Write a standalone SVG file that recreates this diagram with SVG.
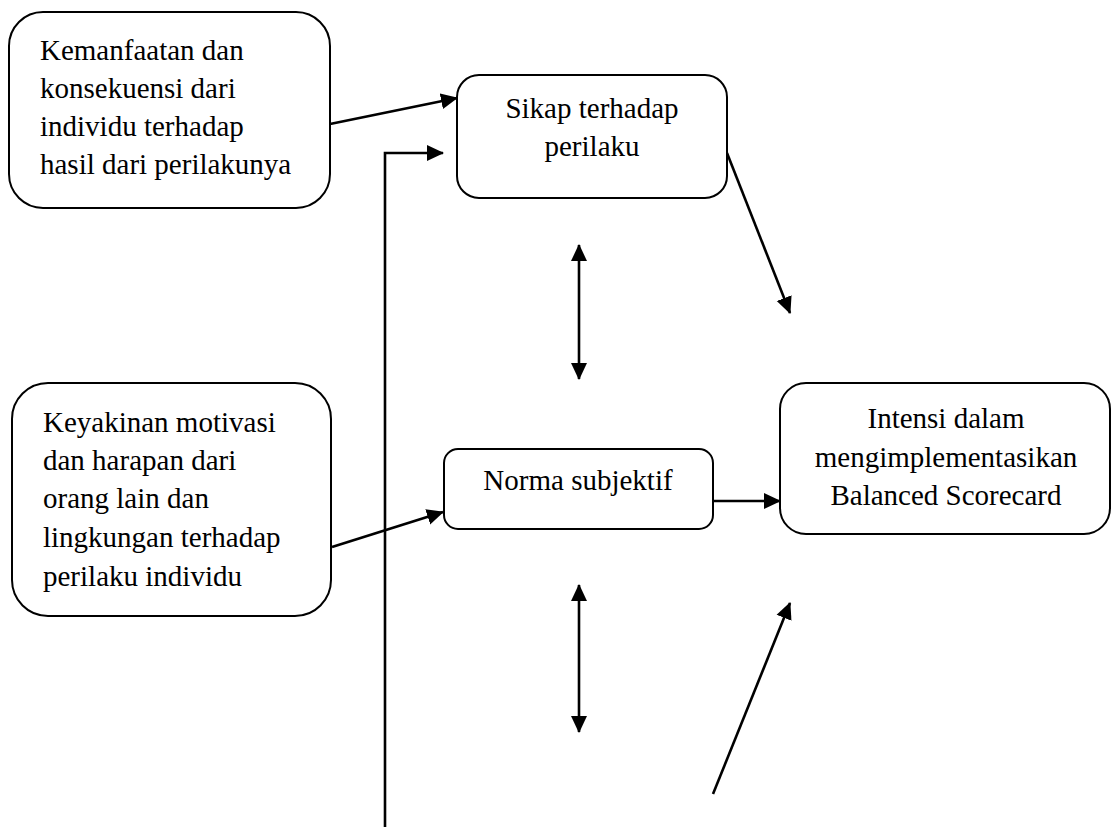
<svg xmlns="http://www.w3.org/2000/svg" width="1116" height="827" viewBox="0 0 1116 827">
<style>
.box{fill:#fff;stroke:#000;stroke-width:2}
.t{font-family:"Liberation Serif","Times New Roman",serif;font-size:29px;fill:#000}
.c{text-anchor:middle}
.ln{fill:none;stroke:#000;stroke-width:2.6}
</style>
<defs>
<marker id="ah" markerUnits="userSpaceOnUse" markerWidth="17" markerHeight="17" refX="16" refY="8" orient="auto-start-reverse" viewBox="0 0 17 16">
<path d="M0,0 L17,8 L0,16 z" fill="#000"/>
</marker>
</defs>
<rect width="1116" height="827" fill="#fff"/>
<g id="connectors">
<line class="ln" x1="330" y1="124" x2="457" y2="98" marker-end="url(#ah)"/>
<polyline class="ln" points="385,827 385,153 443,153" marker-end="url(#ah)"/>
<line class="ln" x1="727" y1="153" x2="790" y2="313" marker-end="url(#ah)"/>
<line class="ln" x1="579" y1="245" x2="579" y2="379" marker-start="url(#ah)" marker-end="url(#ah)"/>
<line class="ln" x1="332" y1="547" x2="443" y2="512" marker-end="url(#ah)"/>
<line class="ln" x1="713" y1="501" x2="780" y2="501" marker-end="url(#ah)"/>
<line class="ln" x1="579" y1="585" x2="579" y2="732" marker-start="url(#ah)" marker-end="url(#ah)"/>
<line class="ln" x1="713" y1="794" x2="790" y2="603" marker-end="url(#ah)"/>
</g>
<g id="n1">
<rect class="box" x="9" y="12" width="321" height="196" rx="34"/>
<text class="t" x="40" y="60">Kemanfaatan dan</text>
<text class="t" x="40" y="98">konsekuensi dari</text>
<text class="t" x="40" y="136">individu terhadap</text>
<text class="t" x="40" y="174">hasil dari perilakunya</text>
</g>
<g id="n2">
<rect class="box" x="457" y="75" width="270" height="123" rx="22"/>
<text class="t c" x="592" y="118">Sikap terhadap</text>
<text class="t c" x="592" y="156">perilaku</text>
</g>
<g id="n3">
<rect class="box" x="12" y="383" width="319" height="233" rx="36"/>
<text class="t" x="43" y="432">Keyakinan motivasi</text>
<text class="t" x="43" y="470">dan harapan dari</text>
<text class="t" x="43" y="508">orang lain dan</text>
<text class="t" x="43" y="547">lingkungan terhadap</text>
<text class="t" x="43" y="586">perilaku individu</text>
</g>
<g id="n4">
<rect class="box" x="444" y="449" width="269" height="80" rx="14"/>
<text class="t c" x="578" y="490">Norma subjektif</text>
</g>
<g id="n5">
<rect class="box" x="780" y="383" width="330" height="151" rx="26"/>
<text class="t c" x="946" y="428">Intensi dalam</text>
<text class="t c" x="946" y="467">mengimplementasikan</text>
<text class="t c" x="946" y="505">Balanced Scorecard</text>
</g>
</svg>
